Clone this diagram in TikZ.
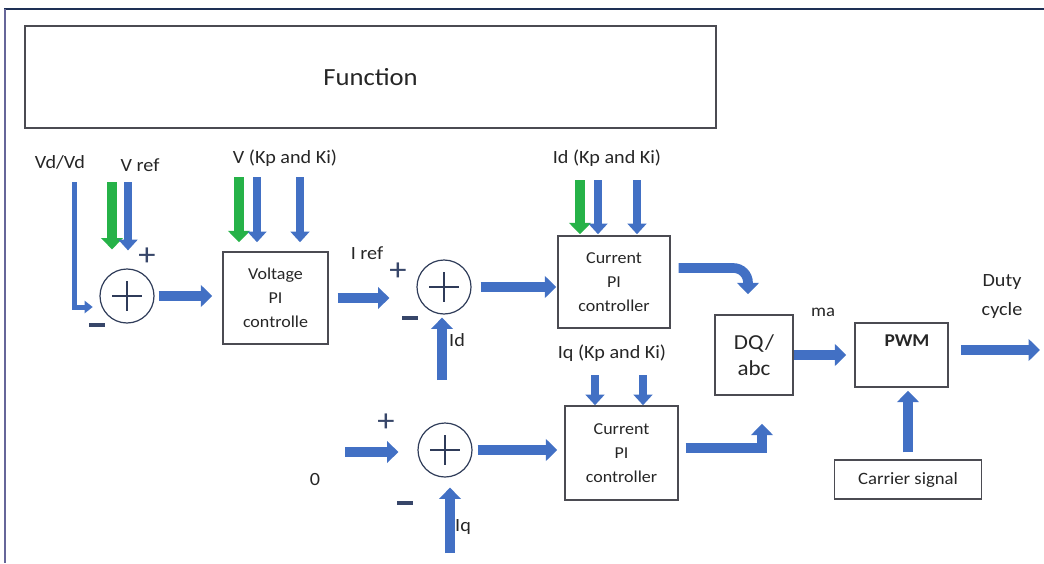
\documentclass[tikz,border=0pt]{standalone}
\usepackage{fontspec}
\setmainfont{Carlito}[FakeStretch=1.08]
\usetikzlibrary{arrows.meta}
\definecolor{arrblue}{RGB}{66,112,196}
\definecolor{arrgreen}{RGB}{38,178,72}
\definecolor{boxline}{RGB}{75,75,82}
\definecolor{signcol}{RGB}{55,70,105}
\definecolor{topnavy}{RGB}{30,48,85}

\begin{document}
\begin{tikzpicture}[x=0.75pt, y=-0.75pt, every node/.style={font=\fontsize{14}{16}\selectfont, text=black!85},
	blk/.style={draw=boxline, line width=1.1pt, align=center, inner sep=0pt, font=\fontsize{12.5}{18}\selectfont},
	sumnode/.style={circle, draw=signcol!85!black, line width=0.9pt, minimum size=40.5pt, inner sep=0pt,
		path picture={\draw[signcol!85!black, line width=0.9pt]
			([xshift=-11pt]path picture bounding box.center) -- ([xshift=11pt]path picture bounding box.center)
			([yshift=-11pt]path picture bounding box.center) -- ([yshift=11pt]path picture bounding box.center);}},
	pmsign/.style={font=\fontsize{24}{24}\selectfont, text=signcol, inner sep=0pt},
	bigarrow/.style={draw=arrblue, line width=7.25pt, -{Triangle[length=8.5pt,width=16pt]}},
	inarrow/.style={draw=arrblue, line width=6pt, -{Triangle[length=8pt,width=14pt]}},
	grarrow/.style={draw=arrgreen, line width=8pt, -{Triangle[length=8.5pt,width=16pt]}},
	thinarrow/.style={draw=arrblue, line width=3.75pt, -{Triangle[length=6pt,width=9pt]}}]
	\useasboundingbox (0,0) rectangle (1044,563);
	\draw[topnavy, line width=2pt] (4,9) -- (1044,9);
	\draw[gray!80!blue, line width=2pt] (5,9) -- (5,563);

	\node[blk, minimum width=518.25pt, minimum height=76.5pt, font=\fontsize{18.5}{20}\selectfont] (func) at (370.5,77) {Function};

	\node[sumnode] (s1) at (127,296) {};
	\node[sumnode] (s2) at (444,287) {};
	\node[sumnode] (s3) at (445,450) {};
	\node[blk, minimum width=78.75pt, minimum height=69pt] (vpi) at (275.5,298) {Voltage\\PI\\controlle};
	\node[blk, minimum width=84pt, minimum height=69pt] (cpi1) at (614,282) {Current\\PI\\controller};
	\node[blk, minimum width=84.75pt, minimum height=70.5pt] (cpi2) at (621.5,453) {Current\\PI\\controller};
	\node[blk, minimum width=58.5pt, minimum height=60pt, font=\fontsize{16}{19.5}\selectfont] (dq) at (754,355) {DQ/\\abc};
	\node[blk, minimum width=69.75pt, minimum height=48pt] (pwm) at (901.5,355) {};
	\node[font=\fontsize{13.5}{15}\selectfont\bfseries] (pwmtxt) at (907,341) {PWM};
	\node[blk, minimum width=110.25pt, minimum height=29.25pt, font=\fontsize{13}{15}\selectfont] (car) at (908,479.5) {Carrier signal};

	\node (vdvd) at (60,162) {Vd/Vd};
	\node (vref) at (140,165) {V ref};
	\node (vkp) at (285,158) {V (Kp and Ki)};
	\node (idkp) at (607,158) {Id (Kp and Ki)};
	\node (iqkp) at (612,353) {Iq (Kp and Ki)};
	\node (iref) at (367,253) {I ref};
	\node (idlab) at (457,340) {Id};
	\node (iqlab) at (463,527) {Iq};
	\node (zero) at (315,480) {0};
	\node[font=\fontsize{13}{15}\selectfont] (ma) at (823,312) {ma};
	\node[align=center, font=\fontsize{14}{21.75}\selectfont] (duty) at (1002,297) {Duty\\cycle};

	\node[pmsign] (p1) at (147,257) {+};
	\node[pmsign] (m1) at (97,325) {\color{signcol}\rule{11.5pt}{2.3pt}};
	\node[pmsign] (p2) at (398,272) {+};
	\node[pmsign] (m2) at (410,318) {\color{signcol}\rule{11.5pt}{2.3pt}};
	\node[pmsign] (p3) at (386,423) {+};
	\node[pmsign] (m3) at (405,503) {\color{signcol}\rule{11.5pt}{2.3pt}};

	\coordinate (vdtop) at (74,182);
	\draw[thinarrow, shorten >=5pt] (vdtop) |- ([yshift=-8.25pt]s1.west);
	\coordinate (vrefg) at (112,182);
	\draw[grarrow, shorten >=14.25pt] (vrefg) -- (vrefg |- s1.north);
	\coordinate (vrefb) at (128,182);
	\draw[inarrow, shorten >=13.5pt] (vrefb) -- (vrefb |- s1.north);

	\coordinate (vg) at (239,177);
	\draw[grarrow, shorten >=6.75pt] (vg) -- (vg |- vpi.north);
	\foreach \nm/\xx in {va/257, vb/300}{
		\coordinate (\nm) at (\xx,177);
		\draw[inarrow, shorten >=6.75pt] (\nm) -- (\nm |- vpi.north);
	}
	\coordinate (ig) at (580,180);
	\draw[grarrow, shorten >=0.75pt] (ig) -- (ig |- cpi1.north);
	\foreach \nm/\xx in {ia/598, ib/637}{
		\coordinate (\nm) at (\xx,180);
		\draw[inarrow, shorten >=0.75pt] (\nm) -- (\nm |- cpi1.north);
	}
	\foreach \nm/\xx in {qa/595, qb/643}{
		\coordinate (\nm) at (\xx,375);
		\draw[inarrow] (\nm) -- (\nm |- cpi2.north);
	}

	\draw[bigarrow, shorten <=3pt, shorten >=7.5pt] (s1.east) -- (s1.east -| vpi.west);
	\draw[bigarrow, shorten <=6.75pt, shorten >=20.25pt] (vpi.east) -- (vpi.east -| s2.west);
	\draw[bigarrow, shorten <=6.75pt, shorten >=0.75pt] (s2.east) -- (s2.east -| cpi1.west);
	\draw[bigarrow, rounded corners=11pt] ([xshift=6pt,yshift=10.5pt]cpi1.east) -| ([xshift=-4.5pt,yshift=15pt]dq.north);
	\draw[bigarrow] ([xshift=5.25pt,yshift=3.75pt]cpi2.east) -| ([xshift=6pt,yshift=-21pt]dq.south);
	\draw[bigarrow, shorten >=6pt] (dq.east) -- (dq.east -| pwm.west);
	\coordinate (dutyend) at (1040,350);
	\draw[bigarrow, shorten <=9pt] (pwm.east |- dutyend) -- (dutyend);
	\draw[bigarrow, shorten <=5.25pt, shorten >=2.25pt] (car.north) -- (car.north |- pwm.south);

	\coordinate (zin) at (345,452);
	\draw[bigarrow, shorten >=14.25pt] (zin) -- (zin -| s3.west);
	\draw[bigarrow, shorten <=3.75pt, shorten >=5.25pt] (s3.east) -- (s3.east -| cpi2.west);
	\coordinate (idin) at (442,380);
	\draw[bigarrow, shorten >=2.25pt] (idin) -- (idin |- s2.south);
	\coordinate (iqin) at (450,553);
	\draw[bigarrow, shorten >=7.5pt] (iqin) -- (iqin |- s3.south);
\end{tikzpicture}
\end{document}
